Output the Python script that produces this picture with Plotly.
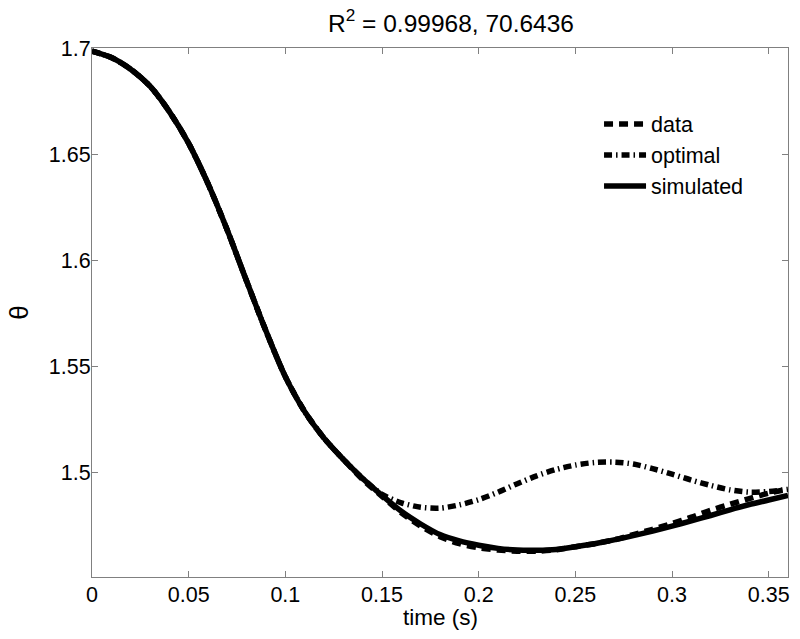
import plotly.graph_objects as go

time_s = [0.00, 0.01, 0.02, 0.03, 0.04, 0.05, 0.06, 0.07, 0.08, 0.09,
          0.10, 0.11, 0.12, 0.13, 0.14, 0.15, 0.16, 0.17, 0.18, 0.19,
          0.20, 0.21, 0.22, 0.23, 0.24, 0.25, 0.26, 0.27, 0.28, 0.29,
          0.30, 0.31, 0.32, 0.33, 0.34, 0.35, 0.36]

theta_data = [1.6985, 1.6955, 1.6900, 1.6820, 1.6700, 1.6550, 1.6360, 1.6140, 1.5900, 1.5665,
              1.5450, 1.5285, 1.5160, 1.5060, 1.4965, 1.4885, 1.4808, 1.4745, 1.4695, 1.4662,
              1.4643, 1.4632, 1.4627, 1.4627, 1.4633, 1.4648, 1.4662, 1.4680, 1.4705, 1.4730,
              1.4757, 1.4787, 1.4820, 1.4848, 1.4875, 1.4900, 1.4920]

theta_optimal = [1.6985, 1.6955, 1.6900, 1.6820, 1.6700, 1.6550, 1.6360, 1.6140, 1.5900, 1.5665,
                 1.5450, 1.5285, 1.5160, 1.5060, 1.4970, 1.4895, 1.4855, 1.4834, 1.4830, 1.4845,
                 1.4870, 1.4905, 1.4945, 1.4982, 1.5012, 1.5033, 1.5045, 1.5047, 1.5038, 1.5016,
                 1.4990, 1.4962, 1.4937, 1.4916, 1.4905, 1.4908, 1.4918]

theta_simulated = [1.6985, 1.6955, 1.6900, 1.6820, 1.6700, 1.6550, 1.6360, 1.6140, 1.5900, 1.5665,
                   1.5450, 1.5285, 1.5160, 1.5060, 1.4970, 1.4890, 1.4815, 1.4755, 1.4705, 1.4675,
                   1.4655, 1.4640, 1.4632, 1.4631, 1.4635, 1.4648, 1.4662, 1.4680, 1.4700, 1.4722,
                   1.4745, 1.4770, 1.4795, 1.4822, 1.4847, 1.4868, 1.4890]

x_ticks = [0, 0.05, 0.1, 0.15, 0.2, 0.25, 0.3, 0.35]
y_ticks = [1.5, 1.55, 1.6, 1.65, 1.7]

FONT = "Liberation Sans, Arial, Helvetica, sans-serif"
AX = "#808080"

fig = go.Figure()
fig.add_trace(go.Scatter(x=time_s, y=theta_data, name="data", mode="lines",
                         line=dict(color="black", width=5.5, dash="9px,6px", shape="spline", smoothing=0.8)))
fig.add_trace(go.Scatter(x=time_s, y=theta_optimal, name="optimal", mode="lines",
                         line=dict(color="black", width=5.5, dash="8px,4px,1.5px,4px", shape="spline", smoothing=0.8)))
fig.add_trace(go.Scatter(x=time_s, y=theta_simulated, name="simulated", mode="lines",
                         line=dict(color="black", width=5.5, shape="spline", smoothing=0.8)))

fig.update_layout(
    width=800, height=639,
    margin=dict(l=92, r=12, t=48, b=62),
    paper_bgcolor="white", plot_bgcolor="white",
    font=dict(family=FONT, size=21.5, color="black"),
    title=dict(text="R<sup>2</sup> = 0.99968, 70.6436", x=451/800, xanchor="center",
               y=1 - 23/639, yanchor="middle", font=dict(size=24.5)),
    legend=dict(x=0.7285, y=0.895, xanchor="left", yanchor="top",
                bgcolor="rgba(0,0,0,0)", borderwidth=0, font=dict(size=21.5),
                tracegroupgap=0, itemwidth=42),
    showlegend=True,
    annotations=[dict(text="time (s)", xref="paper", yref="paper", x=0.5, y=-40/529,
                      xanchor="center", yanchor="middle", showarrow=False,
                      font=dict(size=22.5))],
)
fig.update_xaxes(range=[0, 0.36], tickvals=x_ticks, showgrid=False, zeroline=False,
                 showline=True, linecolor=AX, linewidth=1, mirror="ticks",
                 ticks="inside", ticklen=6, tickcolor=AX, ticklabelstandoff=-2,
                 automargin=False)
fig.update_yaxes(range=[1.4505, 1.7], tickvals=y_ticks, showgrid=False, zeroline=False,
                 showline=True, linecolor=AX, linewidth=1, mirror="ticks",
                 ticks="inside", ticklen=6, tickcolor=AX, ticklabelstandoff=-4,
                 automargin=False,
                 title=dict(text="θ", standoff=12, font=dict(size=26)))

fig.write_html("out.html", config={"displayModeBar": False},
               post_script="document.body.style.margin='0';")
